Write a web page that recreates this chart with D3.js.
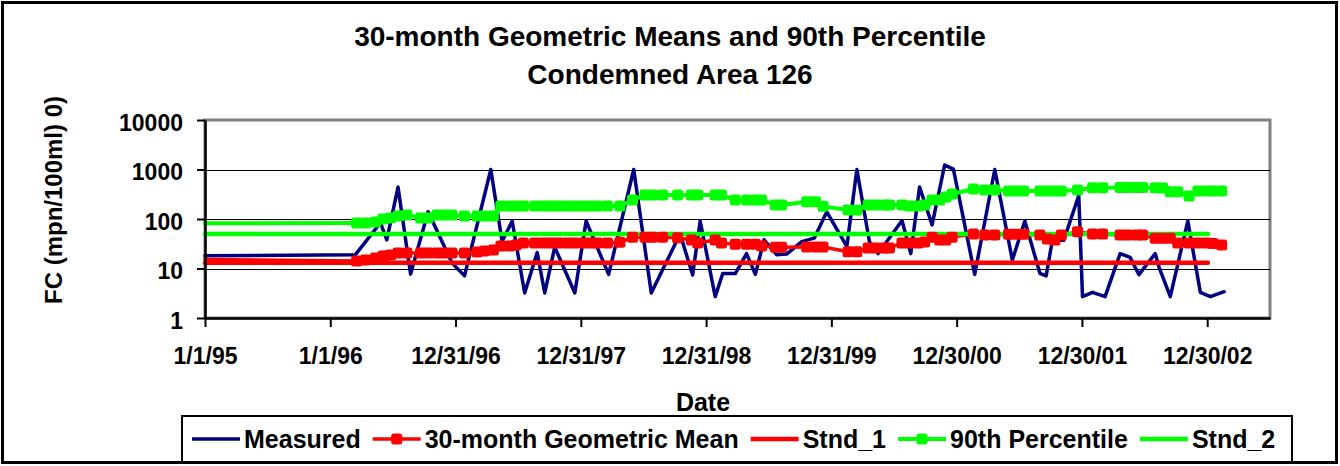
<!DOCTYPE html>
<html>
<head>
<meta charset="utf-8">
<script src="https://cdn.jsdelivr.net/npm/d3@7"></script>
<style>
  body { margin: 0; background: #fff; }
  svg { display: block; }
  text { font-family: "Liberation Sans", Arial, sans-serif; font-weight: bold; fill: #000; }
</style>
</head>
<body>
<svg width="1340" height="466"></svg>
<script>
// sample times are decimal years, values are FC in mpn/100ml
var measuredYears = [1995.00, 1996.20, 1996.40, 1996.45, 1996.54, 1996.64, 1996.78, 1996.97, 1997.07, 1997.28,
  1997.37, 1997.45, 1997.55, 1997.65, 1997.71, 1997.79, 1997.95, 1998.04, 1998.22, 1998.42,
  1998.56, 1998.79, 1998.89, 1998.95, 1999.07, 1999.13, 1999.23, 1999.32, 1999.39, 1999.46,
  1999.56, 1999.64, 1999.76, 1999.86, 1999.96, 2000.12, 2000.20, 2000.30, 2000.37, 2000.56,
  2000.63, 2000.70, 2000.80, 2000.90, 2000.97, 2001.14, 2001.30, 2001.44, 2001.54, 2001.66,
  2001.71, 2001.76, 2001.85, 2001.97, 2002.00, 2002.08, 2002.18, 2002.30, 2002.38, 2002.45,
  2002.58, 2002.61, 2002.70, 2002.84, 2002.94, 2003.02, 2003.13];
var measuredValues = [18, 19, 84, 38, 440, 7.7, 140, 13, 7.1, 1000,
  35, 91, 3.2, 21, 3.2, 27, 3.2, 91, 7.6, 1000,
  3.2, 50, 7.4, 91, 2.7, 7.9, 7.9, 20, 7.6, 38,
  19, 19.6, 35, 41, 140, 28, 1000, 35, 20, 93,
  20, 443, 76, 1230, 1020, 7.6, 1000, 14.8, 91, 8,
  7.1, 38, 37, 298, 2.7, 3.3, 2.7, 20, 16.8, 7.5,
  20, 10.7, 2.7, 91, 3.3, 2.7, 3.4];

// the 30-month statistics share one set of dates
var statYears = [1995.00,
  1996.21, 1996.28, 1996.36, 1996.42, 1996.48, 1996.54, 1996.61, 1996.72, 1996.78, 1996.85, 1996.91, 1996.97,
  1997.07, 1997.17, 1997.23, 1997.30, 1997.36, 1997.43, 1997.48, 1997.54, 1997.63, 1997.70, 1997.76, 1997.82, 1997.89, 1997.95,
  1998.02, 1998.08, 1998.13, 1998.21, 1998.31, 1998.41, 1998.51, 1998.57, 1998.65, 1998.77, 1998.88, 1998.93,
  1999.07, 1999.12, 1999.23, 1999.32, 1999.39, 1999.44, 1999.55, 1999.60, 1999.80, 1999.87, 1999.93,
  2000.13, 2000.20, 2000.29, 2000.35, 2000.42, 2000.46, 2000.56, 2000.62, 2000.69, 2000.74, 2000.80, 2000.86, 2000.91, 2000.96,
  2001.13, 2001.22, 2001.30, 2001.41, 2001.47, 2001.53, 2001.66, 2001.72, 2001.78, 2001.83, 2001.96,
  2002.08, 2002.16, 2002.30, 2002.36, 2002.43, 2002.48, 2002.58, 2002.64, 2002.70, 2002.76, 2002.85, 2002.92, 2002.99,
  2003.04, 2003.11];
var geoMeanValues = [15.2,
  14.2, 14.8, 16.3, 17.9, 18.7, 20.6, 20.6, 20.6, 20.6, 20.6, 20.6, 20.6,
  20.6, 21.5, 22.6, 23.6, 28.5, 28.5, 29.8, 32.7, 32.7, 32.7, 32.7, 32.7, 32.7, 32.7,
  32.7, 32.7, 32.7, 32.7, 33.8, 43, 43, 43, 43, 42, 37.6, 32.7,
  37.6, 32.7, 30.8, 30.8, 30.8, 28.5, 26.8, 26.8, 27.2, 27.2, 27.2,
  21.8, 21.8, 26, 26, 26, 26, 32.7, 32.7, 32.7, 34.3, 43, 37.6, 37.6, 43,
  50, 47.5, 47.5, 49, 49, 49, 47.5, 39.4, 37.6, 47.5, 55,
  50, 50, 47.5, 47.5, 47.5, 47.5, 41, 41, 41, 32.7, 32.7, 32.7, 32.7,
  32, 29.8];
var pct90Values = [82,
  83, 83, 87, 100, 105, 115, 120, 105, 105, 120, 120, 120,
  115, 115, 115, 115, 183, 183, 183, 183, 183, 183, 183, 183, 183, 183,
  183, 183, 183, 183, 183, 242, 305, 305, 305, 305, 305, 305,
  305, 305, 242, 242, 242, 242, 192, 192, 224, 224, 180,
  152, 152, 192, 192, 192, 192, 192, 183, 183, 192, 242, 242, 278, 320,
  404, 385, 385, 368, 368, 368, 368, 368, 368, 368, 385,
  429, 429, 433, 433, 433, 433, 429, 423, 356, 356, 291, 368, 368,
  368, 368];

var standardYears = [1995.00, 2003.00];
var stnd1Values = [13, 13];
var stnd2Values = [50, 50];

var xTickDates = ["1995-01-01", "1996-01-01", "1996-12-31", "1997-12-31", "1998-12-31",
  "1999-12-31", "2000-12-30", "2001-12-30", "2002-12-30"];
var yTicks = [1, 10, 100, 1000, 10000];
var yGrid = [10, 100, 1000];
var seriesNames = ["Measured", "30-month Geometric Mean", "Stnd_1", "90th Percentile", "Stnd_2"];

var navy = "#000080", red = "#ff0000", green = "#00ff00";

var t0 = new Date(1995, 0, 1).getTime();
function toDate(yr) { return new Date(t0 + (yr - 1995) * 365.25 * 864e5); }
function pairs(years, values) {
  return years.map(function(yr, i) { return { date: toDate(yr), value: values[i] }; });
}

var measured = pairs(measuredYears, measuredValues);
var geoMean = pairs(statYears, geoMeanValues);
var pct90 = pairs(statYears, pct90Values);
var stnd1 = pairs(standardYears, stnd1Values);
var stnd2 = pairs(standardYears, stnd2Values);

var svg = d3.select("svg");
var plot = { left: 205, right: 1270, top: 120, bottom: 318 };
var mk = 11; // marker size

var x = d3.scaleTime()
  .domain([new Date(1995, 0, 1), new Date(2003, 6, 1)])
  .range([plot.left, plot.right]);
var y = d3.scaleLog().domain([1, 10000]).range([plot.bottom, plot.top]);

// outer chart border
svg.append("rect")
  .attr("x", 2.5).attr("y", 2.5).attr("width", 1334).attr("height", 460)
  .attr("fill", "#fff").attr("stroke", "#000").attr("stroke-width", 3);

// titles
svg.append("text").attr("x", 670).attr("y", 46).attr("text-anchor", "middle")
  .attr("font-size", 28).text("30-month Geometric Means and 90th Percentile");
svg.append("text").attr("x", 670).attr("y", 84).attr("text-anchor", "middle")
  .attr("font-size", 28).text("Condemned Area 126");

// plot area frame (gray) and gridlines
svg.append("rect")
  .attr("x", plot.left).attr("y", plot.top)
  .attr("width", plot.right - plot.left).attr("height", plot.bottom - plot.top)
  .attr("fill", "#fff").attr("stroke", "#808080").attr("stroke-width", 3);

svg.append("g").selectAll("line").data(yGrid).enter().append("line")
  .attr("x1", plot.left).attr("x2", plot.right)
  .attr("y1", function(d) { return Math.round(y(d)) + 0.5; })
  .attr("y2", function(d) { return Math.round(y(d)) + 0.5; })
  .attr("stroke", "#000").attr("stroke-width", 1);

// lines first, markers on top (as the original draws them)
var line = d3.line()
  .x(function(d) { return x(d.date); })
  .y(function(d) { return y(d.value); });

function drawLine(data, color, width) {
  svg.append("path").datum(data)
    .attr("d", line)
    .attr("fill", "none")
    .attr("stroke", color)
    .attr("stroke-width", width)
    .attr("stroke-linejoin", "round")
    .attr("stroke-linecap", "round");
}
drawLine(measured, navy, 3.5);
drawLine(geoMean, red, 3.5);
drawLine(stnd1, red, 4.5);
drawLine(pct90, green, 4);
drawLine(stnd2, green, 4.5);

function drawMarkers(data, color) {
  // first point is the value carried in at the axis start, shown without a marker
  svg.append("g").selectAll("rect").data(data.slice(1)).enter().append("rect")
    .attr("x", function(d) { return x(d.date) - mk / 2; })
    .attr("y", function(d) { return y(d.value) - mk / 2; })
    .attr("width", mk).attr("height", mk).attr("rx", 2.5)
    .attr("fill", color);
}
drawMarkers(geoMean, red);
drawMarkers(pct90, green);

// axes
var parseDay = d3.timeParse("%Y-%m-%d");
var xAxis = d3.axisBottom(x)
  .tickValues(xTickDates.map(parseDay))
  .tickFormat(d3.timeFormat("%-m/%-d/%y"))
  .tickSize(9).tickSizeOuter(0).tickPadding(21);
var gx = svg.append("g").attr("transform", "translate(0," + plot.bottom + ")").call(xAxis);

var yAxis = d3.axisLeft(y)
  .tickValues(yTicks)
  .tickFormat(d3.format("d"))
  .tickSize(8).tickSizeOuter(0).tickPadding(14);
var gy = svg.append("g").attr("transform", "translate(" + plot.left + ",0)").call(yAxis);

[gx, gy].forEach(function(g) {
  g.attr("font-family", null).attr("font-size", null);
  g.select(".domain").attr("stroke", "#000").attr("stroke-width", 2.5);
  g.selectAll(".tick line").attr("stroke", "#000").attr("stroke-width", 2);
  g.selectAll(".tick text").attr("font-size", 23).attr("fill", "#000");
});
gy.selectAll(".tick text").attr("dy", "0.45em");

// axis titles
svg.append("text").attr("x", 703).attr("y", 411).attr("text-anchor", "middle")
  .attr("font-size", 25).text("Date");
svg.append("text").attr("transform", "translate(62,200) rotate(-90)")
  .attr("text-anchor", "middle").attr("font-size", 24).text("FC (mpn/100ml) 0)");

// legend
var legend = svg.append("g");
legend.append("rect")
  .attr("x", 182).attr("y", 416).attr("width", 1110).attr("height", 46)
  .attr("fill", "#fff").attr("stroke", "#000").attr("stroke-width", 2);

var legendStyle = [
  { color: navy, width: 3.5, marker: false },
  { color: red, width: 3.5, marker: true },
  { color: red, width: 4.5, marker: false },
  { color: green, width: 4, marker: true },
  { color: green, width: 4.5, marker: false }
];
var cx = 192, ly = 439;
seriesNames.forEach(function(name, i) {
  var s = legendStyle[i];
  legend.append("line")
    .attr("x1", cx).attr("x2", cx + 48).attr("y1", ly).attr("y2", ly)
    .attr("stroke", s.color).attr("stroke-width", s.width);
  if (s.marker) {
    legend.append("rect")
      .attr("x", cx + 24 - mk / 2).attr("y", ly - mk / 2).attr("width", mk).attr("height", mk)
      .attr("rx", 2.5).attr("fill", s.color);
  }
  var t = legend.append("text")
    .attr("x", cx + 52).attr("y", ly + 9)
    .attr("font-size", 25).text(name);
  cx += 52 + t.node().getComputedTextLength() + 12;
});
</script>
</body>
</html>
